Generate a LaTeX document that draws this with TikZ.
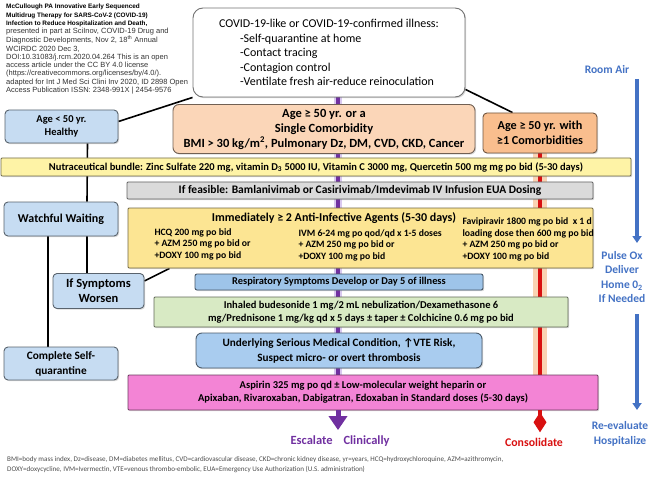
\documentclass[tikz,border=0pt]{standalone}
\usepackage{fontspec}
\setmainfont{Carlito}
\newfontfamily\arialfont{Liberation Sans}
\usetikzlibrary{arrows.meta,shadows,backgrounds}

\definecolor{boxblue}{HTML}{C6DCF2}
\definecolor{boxpeach}{HTML}{FBD6B8}
\definecolor{boxorange}{HTML}{F9BE8E}
\definecolor{boxyellow}{HTML}{FEF3A6}
\definecolor{boxgold}{HTML}{FCE593}
\definecolor{boxgray}{HTML}{DADADA}
\definecolor{boxmid}{HTML}{9EC4E9}
\definecolor{boxsky}{HTML}{A9CCEF}
\definecolor{boxgreen}{HTML}{D8EAC4}
\definecolor{boxpink}{HTML}{F384D5}
\definecolor{escpurple}{HTML}{7030A0}
\definecolor{escglow}{HTML}{D9C8F0}
\definecolor{conred}{HTML}{D81010}
\definecolor{conglow}{HTML}{FAD3B3}
\definecolor{sideblue}{HTML}{4472C4}

\begin{document}
\begin{tikzpicture}[x = 1pt, y = -1pt,
		box/.style = {draw = #1!45!black, fill = #1, rounded corners = 4pt, line width = 0.9pt,
			align = center, inner sep = 1pt, font = \bfseries\fontsize{10.5}{13}\selectfont,
			drop shadow = {opacity = 0.3, shadow xshift = 1.2pt, shadow yshift = -1.2pt}},
		big/.style = {font = \bfseries\fontsize{#1}{15}\selectfont},
		small/.style = {anchor = west, align = left, font = \bfseries\fontsize{9.7}{11.5}\selectfont},
		link/.style = {line width = 1.6pt},
		side/.style = {text = sideblue, align = center, font = \bfseries\fontsize{11.5}{14.5}\selectfont},
		sidearrow/.style = {draw = sideblue, line width = 3.5pt, -{Triangle[width = 9pt, length = 7pt]}}]
		\useasboundingbox (0,0) rectangle (650,481);
		
		\node[anchor = north west, align = left, inner sep = 0pt, text = black!80,
			font = \arialfont\fontsize{7.5}{8.25}\selectfont] (cite) at (6,4)
			{{\fontsize{6.4}{8.25}\selectfont\bfseries\color{black}McCullough PA Innovative Early Sequenced}\\
			{\fontsize{6.4}{8.25}\selectfont\bfseries\color{black}Multidrug Therapy for SARS-CoV-2 (COVID-19)}\\
			{\fontsize{6.4}{8.25}\selectfont\bfseries\color{black}Infection to Reduce Hospitalization and Death,}\\
			presented in part at SciInov, COVID-19 Drug and\\
			Diagnostic Developments, Nov 2, 18\textsuperscript{th} Annual\\
			WCIRDC 2020 Dec 3,\\
			DOI:10.31083/j.rcm.2020.04.264 This is an open\\
			access article under the CC BY 4.0 license\\
			(https://creativecommons.org/licenses/by/4.0/).\\
			adapted for Int J Med Sci Clini Inv 2020, ID 2898 Open\\
			Access Publication ISSN: 2348-991X | 2454-9576};
		
		\node[box = white, rounded corners = 10pt, align = left, minimum width = 272pt, minimum height = 89pt,
			font = \fontsize{12}{14.5}\selectfont] (top) at (329,52.5)
			{COVID-19-like or COVID-19-confirmed illness:\\
			\hspace*{21pt}-Self-quarantine at home\\
			\hspace*{21pt}-Contact tracing\\
			\hspace*{21pt}-Contagion control\\
			\hspace*{21pt}-Ventilate fresh air-reduce reinoculation};
		
		\node[box = boxblue, minimum width = 113pt, minimum height = 33pt] (young) at (61.5,126.5)
			{Age < 50 yr.\\Healthy};
		\node[box = boxpeach, big = 12.5, minimum width = 302pt, minimum height = 49pt, rounded corners = 6pt] (single) at (324,129)
			{Age ≥ 50 yr. or a\\Single Comorbidity\\BMI > 30 kg/m\textsuperscript{2}, Pulmonary Dz, DM, CVD, CKD, Cancer};
		\node[box = boxorange, big = 12.2, minimum width = 114pt, minimum height = 40pt] (comorb) at (540,133)
			{Age ≥ 50 yr. with\\≥1 Comorbidities};
		
		\node[box = boxyellow, rounded corners = 1pt, minimum width = 630pt, minimum height = 18pt] (nutra) at (316,167)
			{Nutraceutical bundle: Zinc Sulfate 220 mg, vitamin D\textsubscript{3} 5000 IU, Vitamin C 3000 mg, Quercetin 500 mg mg po bid (5-30 days)};
		\node[box = boxgray, big = 11.5, rounded corners = 1pt, minimum width = 466pt, minimum height = 17pt] (feasible) at (360,190.5)
			{If feasible: Bamlanivimab or Casirivimab/Imdevimab IV Infusion EUA Dosing};
		
		\node[box = boxblue, big = 12, minimum width = 114pt, minimum height = 34pt] (watch) at (61,219)
			{Watchful Waiting};
		\node[box = boxgold, rounded corners = 1pt, minimum width = 465pt, minimum height = 60pt] (anti) at (360.5,238) {};
		\node[big = 12] (antititle) at (334,218)
			{Immediately ≥ 2 Anti-Infective Agents (5-30 days)};
		\node[small] (hcq) at (151,244)
			{HCQ 200 mg po bid\\+ AZM 250 mg po bid or\\+DOXY 100 mg po bid};
		\node[small] (ivm) at (295,245)
			{IVM 6-24 mg po qod/qd x 1-5 doses\\+ AZM 250 mg po bid or\\+DOXY 100 mg po bid};
		\node[small] (favi) at (459,239.5)
			{Favipiravir 1800 mg po bid\ \ x 1 d\\loading dose then 600 mg po bid\\+ AZM 250 mg po bid or\\+DOXY 100 mg po bid};
		
		\node[box = boxblue, big = 12.5, minimum width = 91pt, minimum height = 35pt] (worsen) at (98.5,291)
			{If Symptoms\\Worsen};
		\node[box = boxmid, big = 10.4, minimum width = 288pt, minimum height = 16pt, rounded corners = 2pt] (resp) at (339,282)
			{Respiratory Symptoms Develop or Day 5 of illness};
		\node[box = boxgreen, rounded corners = 1pt, minimum width = 414pt, minimum height = 30pt] (inhaled) at (361,312)
			{Inhaled budesonide 1 mg/2 mL nebulization/Dexamethasone 6\\mg/Prednisone 1 mg/kg qd x 5 days ± taper ± Colchicine 0.6 mg po bid};
		\node[box = boxsky, big = 11.2, minimum width = 286pt, minimum height = 35pt, rounded corners = 6pt] (vte) at (339,350.5)
			{Underlying Serious Medical Condition, ↑VTE Risk,\\Suspect micro- or overt thrombosis};
		\node[box = boxblue, big = 11.3, minimum width = 114pt, minimum height = 33pt] (quarantine) at (61,363.5)
			{Complete Self-\\quarantine};
		\node[box = boxpink, rounded corners = 1pt, minimum width = 470pt, minimum height = 35pt] (aspirin) at (363,392.5)
			{Aspirin 325 mg po qd ± Low-molecular weight heparin or\\Apixaban, Rivaroxaban, Dabigatran, Edoxaban in Standard doses (5-30 days)};
		
		\node[text = escpurple, big = 12.5] (escalate) at (340,441)
			{Escalate\hspace{11pt}Clinically};
		\node[text = conred, big = 11.8] (consolidate) at (534,442)
			{Consolidate};
		\node[side] (roomair) at (607,70) {Room Air};
		\node[side] (pulse) at (622,277) {Pulse Ox\\Deliver\\Home 0\textsubscript{2}\\If Needed};
		\node[side] (reeval) at (620,434) {Re-evaluate\\Hospitalize};
		
		\node[anchor = north west, align = left, inner sep = 0pt, text = black!70,
			font = \fontsize{7.1}{10.8}\selectfont] (notes) at (7,456)
			{BMI=body mass index, Dz=disease, DM=diabetes mellitus, CVD=cardiovascular disease, CKD=chronic kidney disease, yr=years, HCQ=hydroxychloroquine, AZM=azithromycin,\\
			DOXY=doxycycline, IVM=Ivermectin, VTE=venous thrombo-embolic, EUA=Emergency Use Authorization (U.S. administration)};
		
		\coordinate (esc) at (338,0);
		\coordinate (cons) at (540,0);
		\coordinate (o2top) at (637,79);
		\coordinate (o2mid) at (637,243);
		\coordinate (o2low) at (637,314);
		\coordinate (o2end) at (637,410);
		
		\begin{scope}[on background layer]
			\draw[escglow, line width = 8pt] (top.south -| esc) -- (aspirin.south -| esc);
			\draw[escpurple, line width = 3.5pt] (top.south -| esc) -- (aspirin.south -| esc);
			\draw[conglow, line width = 14pt] (comorb.south -| cons) -- (aspirin.south -| cons);
			\draw[conred, line width = 4pt] (comorb.south -| cons) -- (aspirin.south -| cons);
			
			\draw[link] (top.south west) -- ([yshift = 5pt]young.east);
			\draw[link] ([yshift = 8pt]top.south east) -- ([xshift = 30pt]comorb.north west);
			\draw[link] ([xshift = 26pt]young.south) -- ([xshift = 26pt]watch.north);
			\draw[link] ([xshift = 26pt]watch.south) -- ([xshift = 26pt]watch.south |- worsen.north);
			\draw[link] ([xshift = -13pt]watch.south) -- ([xshift = -13pt]quarantine.north);
			\draw[link] ([yshift = 10pt]worsen.east) -- ([xshift = 42pt]anti.south west);
		\end{scope}
		
		\draw[escpurple, line width = 5pt, -{Triangle[width = 18pt, length = 14pt]}]
			(aspirin.south -| esc) -- ([yshift = 2pt]escalate.north -| esc);
		\draw[conred, line width = 4pt, -{Kite[width = 13pt, length = 20pt, inset = 10pt]}]
			(aspirin.south -| cons) -- ([yshift = 2pt]consolidate.north -| cons);
		
		\draw[sidearrow] (o2top) -- (o2mid);
		\draw[sidearrow] (o2low) -- (o2end);
	\end{tikzpicture}
\end{document}
